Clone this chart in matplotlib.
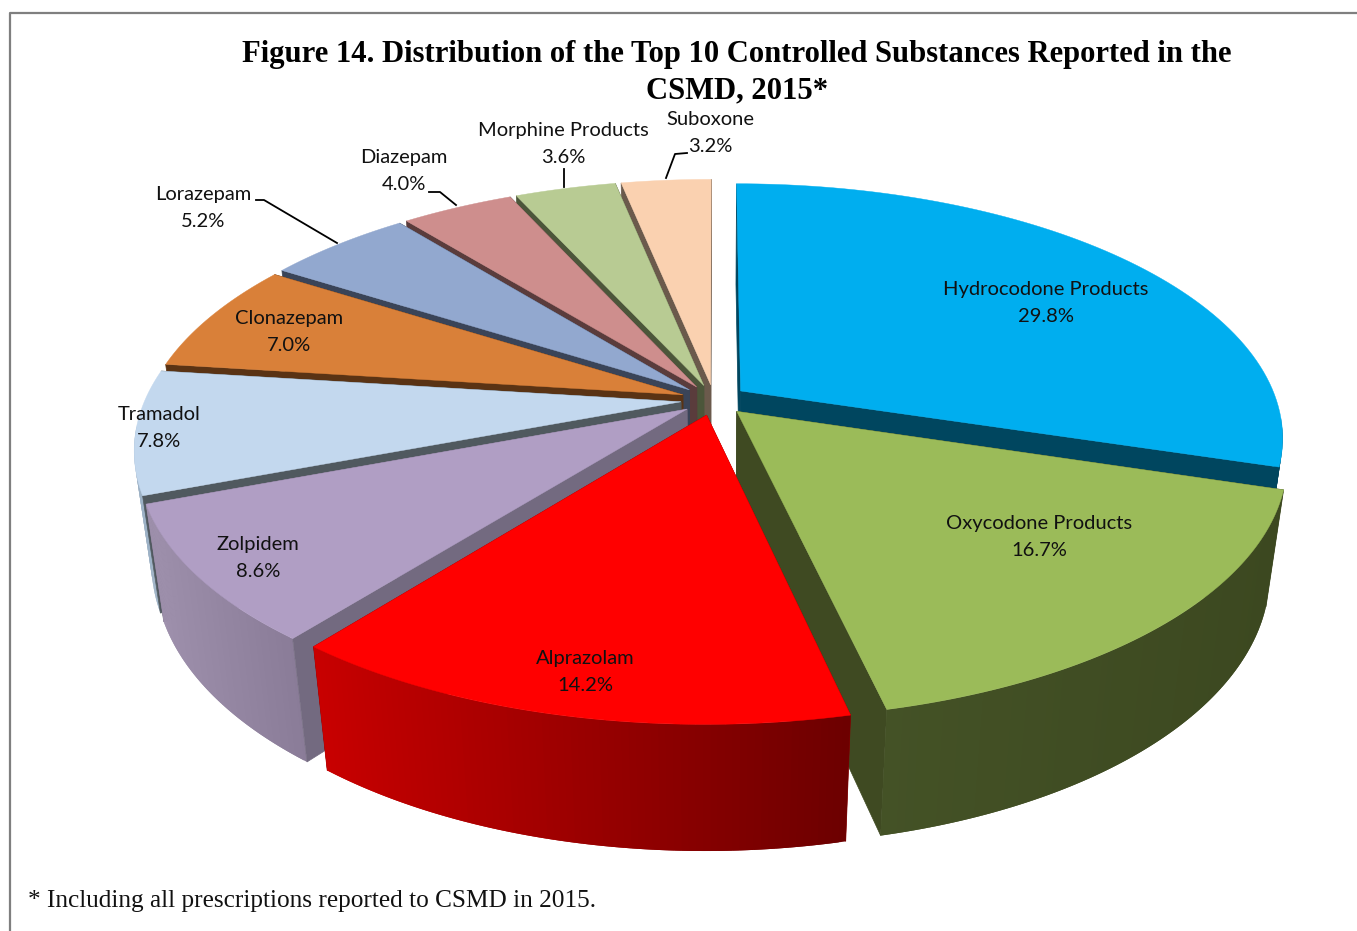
import numpy as np
import matplotlib
matplotlib.use('Agg')
import matplotlib.pyplot as plt
from matplotlib.patches import Polygon

# Share of prescriptions, clockwise from 12 o'clock
substances = ['Hydrocodone Products', 'Oxycodone Products', 'Alprazolam', 'Zolpidem', 'Tramadol',
              'Clonazepam', 'Lorazepam', 'Diazepam', 'Morphine Products', 'Suboxone']
shares = [29.8, 16.7, 14.2, 8.6, 7.8, 7.0, 5.2, 4.0, 3.6, 3.2]
share_labels = ['29.8%', '16.7%', '14.2%', '8.6%', '7.8%', '7.0%', '5.2%', '4.0%', '3.6%', '3.2%']

top_colors = ['#00AEEF', '#9BBB59', '#FF0000', '#B09EC4', '#C3D8EE',
              '#D98039', '#92A8CF', '#CE8E8D', '#B8CB93', '#FAD1B0']
face_colors = ['#00465F', '#3F4A22', '#8A0000', '#736A80', '#50595F',
               '#5A3314', '#3A4458', '#5A3C3C', '#4C563A', '#6B5A4C']
wall_left = ['#00465F', '#445226', '#C80000', '#9E90AC', '#9DB2C6',
             '#5A3314', '#3A4458', '#5A3C3C', '#4C563A', '#6B5A4C']
wall_right = ['#00465F', '#3C4820', '#6C0000', '#8A7C98', '#9DB2C6',
              '#5A3314', '#3A4458', '#5A3C3C', '#4C563A', '#6B5A4C']

# back slices first, front slices over them
draw_order = [9, 8, 7, 6, 5, 4, 3, 0, 1, 2]

# label centres in pixels of the reference
label_pos = {
    'Hydrocodone Products': (1046, 303), 'Oxycodone Products': (1039, 537), 'Alprazolam': (585, 672),
    'Zolpidem': (258, 558), 'Tramadol': (159, 428), 'Clonazepam': (289, 332), 'Lorazepam': (203, 208),
    'Diazepam': (404, 171), 'Morphine Products': (563, 144), 'Suboxone': (710, 133),
}
leaders = [
    [(256, 200), (264, 200), (337, 243)],
    [(429, 192), (440, 192), (456, 205)],
    [(564, 169), (564, 187)],
    [(687, 153), (675, 154), (666, 178)],
]

CX, CY = 714, 400     # pie centre
RX, RY = 536, 247.5   # disc scale
PERSP = 0.18          # how much the back shrinks and the front grows
DEPTH = 116           # pie thickness
DEPTH_W = 0.03
EXPLODE = 0.062


def project(u, v, low=False):
    w = 1 + PERSP * v + (DEPTH_W if low else 0)
    x = CX + RX * u / w
    y = CY + (-RY * v + (DEPTH if low else 0)) / w
    return x, y


def mix(c1, c2, t):
    a = np.array(matplotlib.colors.to_rgb(c1))
    b = np.array(matplotlib.colors.to_rgb(c2))
    return tuple(a + (b - a) * t)


plt.rcParams['font.family'] = ['Lato', 'DejaVu Sans']
fig = plt.figure(figsize=(13.57, 9.31), dpi=100)
ax = fig.add_axes([0, 0, 1, 1])
ax.set_xlim(0, 1357)
ax.set_ylim(931, 0)
ax.axis('off')

# frame, open on the right side
ax.plot([10, 10, 1357], [931, 13, 13], color='#7F7F7F', lw=1.6)

total = sum(shares)
edges = np.radians(np.cumsum([0] + shares) / total * 360)

for i in draw_order:
    a0, a1 = edges[i], edges[i + 1]
    mid = (a0 + a1) / 2
    ou, ov = EXPLODE * np.sin(mid), EXPLODE * np.cos(mid)
    th = np.linspace(a0, a1, 80)
    us = ou + np.sin(th)
    vs = ov + np.cos(th)
    top = [project(u, v) for u, v in zip(us, vs)]
    low = [project(u, v, True) for u, v in zip(us, vs)]
    apex_t = project(ou, ov)
    apex_b = project(ou, ov, True)

    start_face = [apex_t, top[0], low[0], apex_b]
    end_face = [apex_t, top[-1], low[-1], apex_b]
    # on the left side of the pie the start face shows, it has to go over the wall
    left_side = mid > np.radians(200)
    ax.add_patch(Polygon(end_face, fc=face_colors[i], ec=face_colors[i], lw=0.5))
    if not left_side:
        ax.add_patch(Polygon(start_face, fc=face_colors[i], ec=face_colors[i], lw=0.5))

    # round wall, shaded left to right in small overlapping strips
    xs = np.array([p[0] for p in top])
    xmin, xmax = xs.min(), xs.max()
    for j in range(len(th) - 1):
        if np.cos((th[j] + th[j + 1]) / 2) > -0.1:
            continue
        k = min(j + 2, len(th) - 1)
        t = ((xs[j] + xs[j + 1]) / 2 - xmin) / max(xmax - xmin, 1)
        c = mix(wall_left[i], wall_right[i], t)
        ax.add_patch(Polygon([top[j], top[k], low[k], low[j]], fc=c, ec='none', lw=0))

    if left_side:
        ax.add_patch(Polygon(start_face, fc=face_colors[i], ec=face_colors[i], lw=0.5))

    ax.add_patch(Polygon([apex_t] + top, fc=top_colors[i], ec=top_colors[i], lw=0.3))

for name, pct in zip(substances, share_labels):
    x, y = label_pos[name]
    ax.text(x, y, f'{name}\n{pct}', ha='center', va='center', fontsize=14.5, color='#111111', linespacing=1.65)

for line in leaders:
    ax.plot([p[0] for p in line], [p[1] for p in line], color='black', lw=1.3)

ax.text(737, 73, 'Figure 14. Distribution of the Top 10 Controlled Substances Reported in the\nCSMD, 2015*',
        ha='center', va='center', family='Liberation Serif', fontweight='bold', fontsize=22.1, linespacing=1.33)
ax.text(28, 901, '* Including all prescriptions reported to CSMD in 2015.', ha='left', va='center',
        family='Liberation Serif', fontsize=18.2, color='#111111')

fig.savefig('out.png', dpi=100)
